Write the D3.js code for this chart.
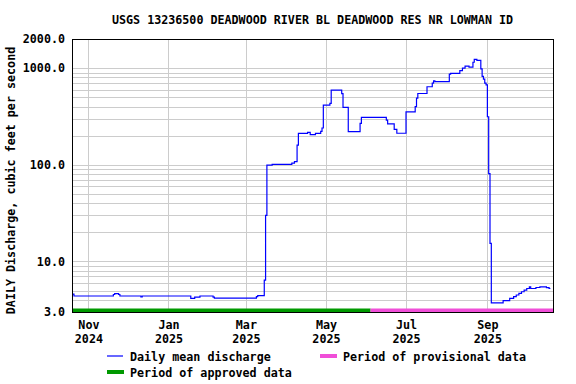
<!DOCTYPE html>
<html>
<head>
<meta charset="utf-8">
<script src="https://cdn.jsdelivr.net/npm/d3@7"></script>
<style>
  body { margin: 0; background: #fff; }
  svg text { font-family: "DejaVu Sans Mono", monospace; font-weight: bold; font-size: 11.7px; fill: #000; }
</style>
</head>
<body>
<div id="chart"></div>
<script>
'use strict';

const Color = {
  Flow: `#0000ff`,
  Approved: `#009900`,
  Provisional: `#f04ed8`,
  Grid: `#cccccc`,
  Black: `#000000`,
}

const title = `USGS 13236500 DEADWOOD RIVER BL DEADWOOD RES NR LOWMAN ID`;
const yLabel = `DAILY Discharge, cubic feet per second`;

// daily mean discharge (cfs), each value holds until the next date
const flowDates = [
  "2024-10-20", "2024-10-21", "2024-11-20", "2024-11-21", "2024-11-24", "2024-11-25",
  "2024-12-11", "2024-12-12", "2025-01-18", "2025-01-21", "2025-01-25", "2025-02-04",
  "2025-02-05", "2025-03-09", "2025-03-10", "2025-03-15", "2025-03-16", "2025-03-17",
  "2025-03-21", "2025-04-05", "2025-04-07", "2025-04-09", "2025-04-10", "2025-04-17",
  "2025-04-19", "2025-04-23", "2025-04-27", "2025-04-28", "2025-04-29", "2025-05-04",
  "2025-05-05", "2025-05-13", "2025-05-14", "2025-05-18", "2025-05-27", "2025-05-28",
  "2025-06-16", "2025-06-17", "2025-06-22", "2025-06-24", "2025-07-01", "2025-07-08",
  "2025-07-09", "2025-07-10", "2025-07-17", "2025-07-21", "2025-07-22", "2025-07-23",
  "2025-08-03", "2025-08-04", "2025-08-11", "2025-08-13", "2025-08-15", "2025-08-18",
  "2025-08-21", "2025-08-22", "2025-08-24", "2025-08-27", "2025-08-28", "2025-08-29",
  "2025-08-30", "2025-08-31", "2025-09-01", "2025-09-02", "2025-09-03", "2025-09-04",
  "2025-09-13", "2025-09-18", "2025-09-21", "2025-09-23", "2025-09-25", "2025-09-27",
  "2025-09-29", "2025-10-01", "2025-10-03", "2025-10-04", "2025-10-08", "2025-10-11",
  "2025-10-16", "2025-10-18",
];
const flowValues = [
  4.6, 4.39, 4.55, 4.65, 4.55, 4.39,
  4.29, 4.39, 4.16, 4.27, 4.39, 4.27,
  4.18, 4.32, 4.44, 6.4, 30, 99,
  101, 104, 108, 160, 211, 216,
  205, 211, 222, 240, 415, 432,
  593, 545, 393, 220, 268, 309,
  290, 265, 232, 212, 353, 400,
  490, 546, 641, 700, 740, 725,
  867, 880, 940, 1000, 1050, 1025,
  1150, 1230, 1200, 980, 820, 770,
  700, 670, 314, 81, 15.4, 3.72,
  3.93, 4.16, 4.32, 4.50, 4.68, 4.86,
  5.05, 5.25, 5.46, 5.25, 5.38, 5.46,
  5.35, 5.25,
];

const yTickValues = [3, 10, 100, 1000, 2000];
const xTickDates = ["2024-11-01", "2025-01-01", "2025-03-01", "2025-05-01", "2025-07-01", "2025-09-01"];
const xDomain = ["2024-10-19T12:00", "2025-10-21T00:00"];
const approvedPeriod = ["2024-10-19T00:00", "2025-06-04T00:00"];
const provisionalPeriod = ["2025-06-04T00:00", "2025-10-21T00:00"];

const legendItems = [
  {label: `Daily mean discharge`, color: Color.Flow, thick: false, x: 107, y: 356},
  {label: `Period of provisional data`, color: Color.Provisional, thick: true, x: 320, y: 356},
  {label: `Period of approved data`, color: Color.Approved, thick: true, x: 107, y: 372},
];

// set the dimensions and margins of the graph
const margin = {top: 39, right: 23, bottom: 72, left: 72},
    width = 576 - margin.left - margin.right,
    height = 384 - margin.top - margin.bottom;

const parseDay = d3.utcParse("%Y-%m-%d");
const parseTime = d3.utcParse("%Y-%m-%dT%H:%M");

const svg = d3.select("#chart")
  .append("svg")
    .attr("width", width + margin.left + margin.right)
    .attr("height", height + margin.top + margin.bottom);

const g = svg.append("g")
    .attr("transform", `translate(${margin.left}, ${margin.top})`);

const x = d3.scaleUtc()
  .domain(xDomain.map(parseTime))
  .range([0, width])
  .clamp(true);

const y = d3.scaleLog()
  .domain([3, 2000])
  .range([height, 0]);

// horizontal grid on every log tick
g.append("g")
  .selectAll("line")
  .data(y.ticks())
  .enter()
  .append("line")
    .attr("x1", 0)
    .attr("x2", width)
    .attr("y1", d => Math.round(y(d)) + 0.5)
    .attr("y2", d => Math.round(y(d)) + 0.5)
    .attr("stroke", Color.Grid);

// vertical grid at the month ticks
g.append("g")
  .selectAll("line")
  .data(xTickDates.map(parseDay))
  .enter()
  .append("line")
    .attr("x1", d => Math.round(x(d)) + 0.5)
    .attr("x2", d => Math.round(x(d)) + 0.5)
    .attr("y1", 0)
    .attr("y2", height)
    .attr("stroke", Color.Grid);

// approval period bars along the bottom
const periods = [
  {range: approvedPeriod, color: Color.Approved},
  {range: provisionalPeriod, color: Color.Provisional},
];
g.append("g")
  .selectAll("rect")
  .data(periods)
  .enter()
  .append("rect")
    .attr("x", d => x(parseTime(d.range[0])))
    .attr("width", d => x(parseTime(d.range[1])) - x(parseTime(d.range[0])))
    .attr("y", height - 3.5)
    .attr("height", 3.5)
    .attr("fill", d => d.color);

// discharge line
const flow = flowDates.map((d, i) => ({date: parseDay(d), value: flowValues[i]}));
const last = flow[flow.length - 1];
flow.push({date: d3.utcDay.offset(last.date, 1), value: last.value}); // hold last day

g.append("clipPath")
    .attr("id", "plot-clip")
  .append("rect")
    .attr("width", width)
    .attr("height", height);

g.append("path")
  .datum(flow)
    .attr("clip-path", "url(#plot-clip)")
    .attr("fill", "none")
    .attr("stroke", Color.Flow)
    .attr("stroke-width", 1.2)
    .attr("d", d3.line()
      .curve(d3.curveStepAfter)
      .x(d => x(d.date))
      .y(d => y(d.value)));

// frame
g.append("rect")
    .attr("x", 0.5)
    .attr("y", 0.5)
    .attr("width", width)
    .attr("height", height)
    .attr("fill", "none")
    .attr("stroke", Color.Black);

// Y axis
const yAxis = g.append("g")
    .call(d3.axisLeft(y).tickValues(yTickValues).tickFormat(d3.format(".1f")).tickSize(0).tickPadding(7));
yAxis.select(".domain").remove();

// X axis, month and year on two lines
const xAxis = g.append("g")
    .attr("transform", `translate(0,${height})`)
    .call(d3.axisBottom(x).tickValues(xTickDates.map(parseDay)).tickSize(0).tickPadding(17));
xAxis.select(".domain").remove();
xAxis.selectAll("text")
    .text(null)
    .each(function(d) {
      const t = d3.select(this);
      t.append("tspan").attr("x", 0).attr("dy", 0).text(d3.utcFormat("%b")(d));
      t.append("tspan").attr("x", 0).attr("dy", 14).text(d3.utcFormat("%Y")(d));
    });

svg.selectAll(".tick text")
    .attr("font-family", null)
    .attr("font-size", null)
    .attr("fill", Color.Black);

// title
svg.append("text")
    .attr("x", margin.left + width / 2)
    .attr("y", 23.5)
    .attr("text-anchor", "middle")
    .text(title);

// y label
svg.append("text")
    .attr("transform", `translate(15, 180.5) rotate(-90)`)
    .attr("text-anchor", "middle")
    .text(yLabel);

// legend
const legend = svg.append("g")
  .selectAll("g")
  .data(legendItems)
  .enter()
  .append("g")
    .attr("transform", d => `translate(${d.x}, ${d.y})`);

legend.append("line")
    .attr("x1", 0)
    .attr("x2", d => d.thick ? 17 : 16)
    .attr("y1", 0)
    .attr("y2", 0)
    .attr("stroke", d => d.color)
    .attr("stroke-width", d => d.thick ? 4 : 1.2);

legend.append("text")
    .attr("x", 23)
    .attr("y", 4.5)
    .text(d => d.label);
</script>
</body>
</html>
